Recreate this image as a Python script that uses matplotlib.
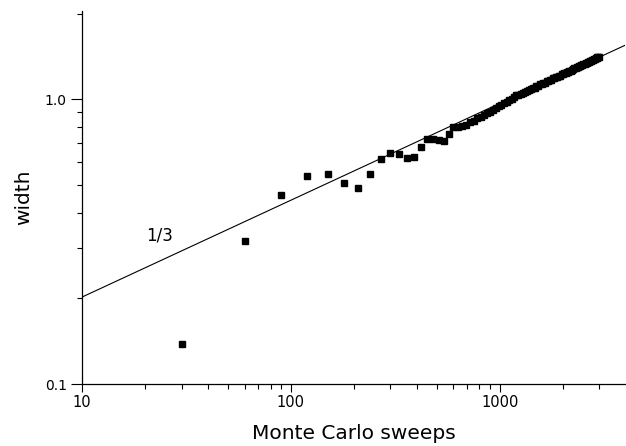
"""Interface width versus Monte Carlo sweeps on log-log axes, with a 1/3 slope guide."""

import matplotlib

matplotlib.use("Agg")
import matplotlib.pyplot as plt
from matplotlib.ticker import FixedLocator, NullFormatter

# early sweeps, read point by point
sweeps_early = [30, 60, 90, 120, 150, 180, 210, 240, 270, 300,
                330, 360, 390, 420, 450, 480, 510, 540, 570, 600]
width_early = [0.138, 0.319, 0.46, 0.537, 0.548, 0.508, 0.49, 0.548, 0.619, 0.65,
               0.643, 0.62, 0.625, 0.682, 0.724, 0.724, 0.72, 0.714, 0.754, 0.798]

# dense part, one point every 30 sweeps from 630 to 3000
sweeps_late = list(range(630, 3001, 30))
width_late = [
    0.800, 0.805, 0.815, 0.830, 0.842, 0.858, 0.866, 0.878, 0.892, 0.905,
    0.918, 0.930, 0.944, 0.956, 0.968, 0.982, 0.995, 1.005, 1.018, 1.032,
    1.036, 1.044, 1.052, 1.064, 1.070, 1.082, 1.085, 1.096, 1.100, 1.112,
    1.116, 1.128, 1.130, 1.142, 1.145, 1.156, 1.158, 1.170, 1.172, 1.184,
    1.186, 1.197, 1.198, 1.210, 1.212, 1.224, 1.226, 1.236, 1.238, 1.248,
    1.250, 1.260, 1.262, 1.272, 1.274, 1.284, 1.286, 1.296, 1.298, 1.306,
    1.310, 1.318, 1.320, 1.330, 1.332, 1.340, 1.343, 1.350, 1.354, 1.362,
    1.366, 1.374, 1.377, 1.385, 1.388, 1.394, 1.399, 1.404, 1.408, 1.411,
]

# slope 1/3 guide line
guide_x = [10, 4000]
guide_y = [0.202, 1.55]


def main() -> None:
    fig = plt.figure(figsize=(6.26, 4.46), dpi=100)
    ax = fig.add_axes([0.131, 0.139, 0.868, 0.836])

    ax.plot(guide_x, guide_y, color="black", linewidth=0.8)
    ax.plot(sweeps_early + sweeps_late, width_early + width_late,
            linestyle="none", marker="s", markersize=3.8, color="black")
    ax.text(23.5, 0.333, "1/3", fontsize=12, ha="center", va="center")

    ax.set_xscale("log")
    ax.set_yscale("log")
    ax.set_xlim(10, 4000)
    ax.set_ylim(0.1, 2.04)

    ax.xaxis.set_major_locator(FixedLocator([10, 100, 1000]))
    ax.set_xticklabels(["10", "100", "1000"])
    ax.xaxis.set_minor_locator(FixedLocator(
        [20, 30, 40, 50, 60, 70, 80, 90, 200, 300, 400, 500, 600, 700, 800, 900,
         2000, 3000]))
    ax.xaxis.set_minor_formatter(NullFormatter())

    ax.yaxis.set_major_locator(FixedLocator([0.1, 1.0]))
    ax.set_yticklabels(["0.1", "1.0"])
    ax.yaxis.set_minor_locator(FixedLocator(
        [0.2, 0.3, 0.4, 0.5, 0.6, 0.7, 0.8, 0.9, 2.0]))
    ax.yaxis.set_minor_formatter(NullFormatter())

    ax.tick_params(which="major", direction="out", length=6, width=0.8,
                   labelsize=10.5, color="black", pad=2)
    ax.tick_params(which="minor", direction="out", length=3.5, width=0.8)
    ax.tick_params(axis="y", which="major", length=8, labelsize=10, pad=3)

    for side in ("top", "right"):
        ax.spines[side].set_visible(False)
    for side in ("left", "bottom"):
        ax.spines[side].set_linewidth(0.9)

    ax.set_xlabel("Monte Carlo sweeps", fontsize=14.5, labelpad=10)
    ax.set_ylabel("width", fontsize=14.5, labelpad=8)

    fig.savefig("out.png", dpi=100)


if __name__ == "__main__":
    main()
